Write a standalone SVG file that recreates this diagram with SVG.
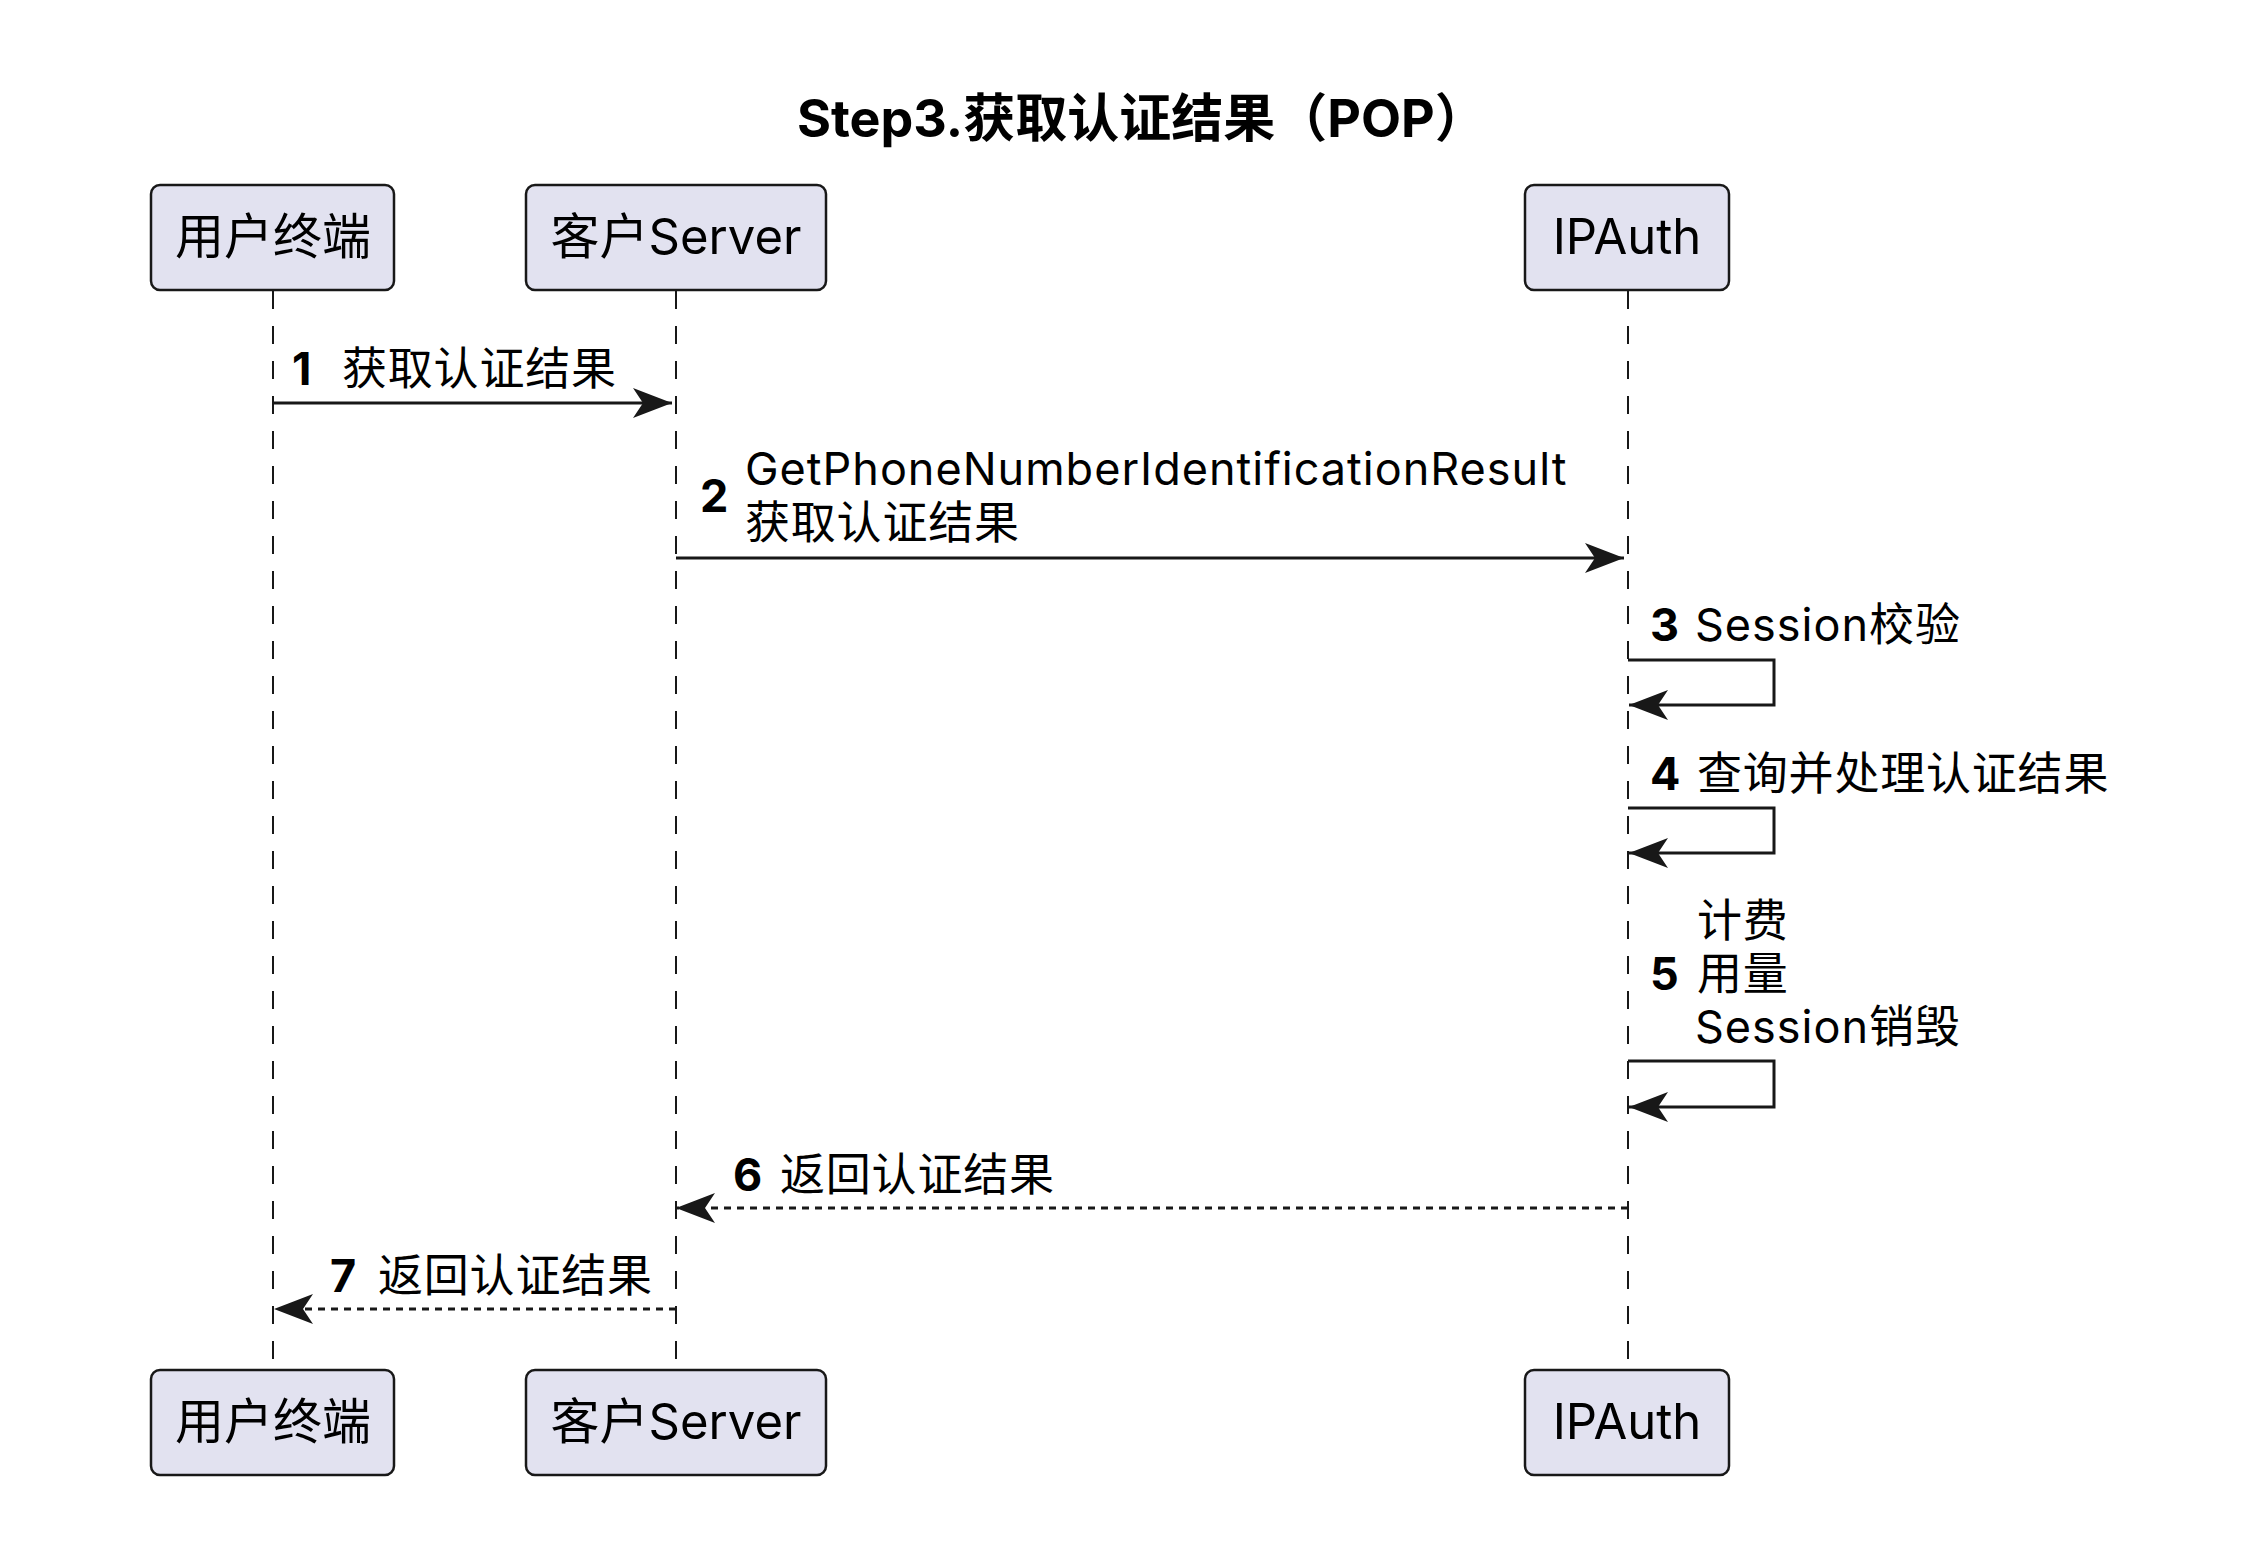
<svg xmlns="http://www.w3.org/2000/svg" width="2242" height="1558" viewBox="0 0 2242 1558">
<style>
.bg{fill:#ffffff}
.box{fill:#E2E2F0;stroke:#181818;stroke-width:2.5}
.life{stroke:#181818;stroke-width:2;stroke-dasharray:18,17;fill:none}
.msg{stroke:#181818;stroke-width:3;fill:none}
.dash{stroke-dasharray:7,6}
.ptxt{font-family:Inter,"Noto Sans CJK SC",sans-serif;font-size:49px;fill:#000;text-anchor:middle}
.mtxt{font-family:Inter,"Noto Sans CJK SC",sans-serif;font-size:45px;fill:#000;letter-spacing:0.8px}
.lat{letter-spacing:1px}
.num{font-family:Inter,"Noto Sans CJK SC",sans-serif;font-size:45px;font-weight:bold;fill:#000}
.title{font-family:Inter,"Noto Sans CJK SC",sans-serif;font-size:52px;font-weight:bold;fill:#000}
</style>
<defs>
<marker id="ah" viewBox="-42 -17 44 34" markerWidth="44" markerHeight="34" refX="0" refY="0" orient="auto" markerUnits="userSpaceOnUse">
<path d="M0,0 L-39,-15 L-29,0 L-39,15 Z" fill="#181818"/>
</marker>
</defs>
<rect class="bg" x="0" y="0" width="2242" height="1558"/>
<text class="title" x="797" y="137">Step3.获取认证结果（POP）</text>

<g id="lifelines">
<line class="life" x1="273" y1="291" x2="273" y2="1369"/>
<line class="life" x1="676" y1="291" x2="676" y2="1369"/>
<line class="life" x1="1628" y1="291" x2="1628" y2="1369"/>
</g>

<g id="user">
<rect class="box" x="151" y="185" width="243" height="105" rx="9"/>
<text class="ptxt" x="273" y="254">用户终端</text>
<rect class="box" x="151" y="1370" width="243" height="105" rx="9"/>
<text class="ptxt" x="273" y="1439">用户终端</text>
</g>
<g id="server">
<rect class="box" x="526" y="185" width="300" height="105" rx="9"/>
<text class="ptxt" x="676" y="254">客户Server</text>
<rect class="box" x="526" y="1370" width="300" height="105" rx="9"/>
<text class="ptxt" x="676" y="1439">客户Server</text>
</g>
<g id="ipauth">
<rect class="box" x="1525" y="185" width="204" height="105" rx="9"/>
<text class="ptxt" x="1627" y="254">IPAuth</text>
<rect class="box" x="1525" y="1370" width="204" height="105" rx="9"/>
<text class="ptxt" x="1627" y="1439">IPAuth</text>
</g>

<g id="connectors">
<line class="msg" x1="273" y1="403" x2="672" y2="403" marker-end="url(#ah)"/>
<line class="msg" x1="676" y1="558" x2="1624" y2="558" marker-end="url(#ah)"/>
<path class="msg" d="M1628,660 H1774 V705 H1629" marker-end="url(#ah)"/>
<path class="msg" d="M1628,808 H1774 V853 H1629" marker-end="url(#ah)"/>
<path class="msg" d="M1628,1061 H1774 V1107 H1629" marker-end="url(#ah)"/>
<line class="msg dash" x1="1628" y1="1208" x2="676" y2="1208" marker-end="url(#ah)"/>
<line class="msg dash" x1="676" y1="1309" x2="274" y2="1309" marker-end="url(#ah)"/>
</g>

<g id="labels">
<text class="num" x="292" y="385">1</text>
<text class="mtxt" x="342" y="385">获取认证结果</text>
<text class="num" x="700" y="512">2</text>
<text class="mtxt lat" x="745" y="485">GetPhoneNumberIdentificationResult</text>
<text class="mtxt" x="745" y="539">获取认证结果</text>
<text class="num" x="1650" y="641">3</text>
<text class="mtxt lat" x="1695" y="641">Session校验</text>
<text class="num" x="1650" y="790">4</text>
<text class="mtxt" x="1697" y="790">查询并处理认证结果</text>
<text class="num" x="1650" y="990">5</text>
<text class="mtxt" x="1697" y="937">计费</text>
<text class="mtxt" x="1697" y="990">用量</text>
<text class="mtxt lat" x="1695" y="1043">Session销毁</text>
<text class="num" x="733" y="1191">6</text>
<text class="mtxt" x="780" y="1191">返回认证结果</text>
<text class="num" x="330" y="1292">7</text>
<text class="mtxt" x="378" y="1292">返回认证结果</text>
</g>
</svg>
